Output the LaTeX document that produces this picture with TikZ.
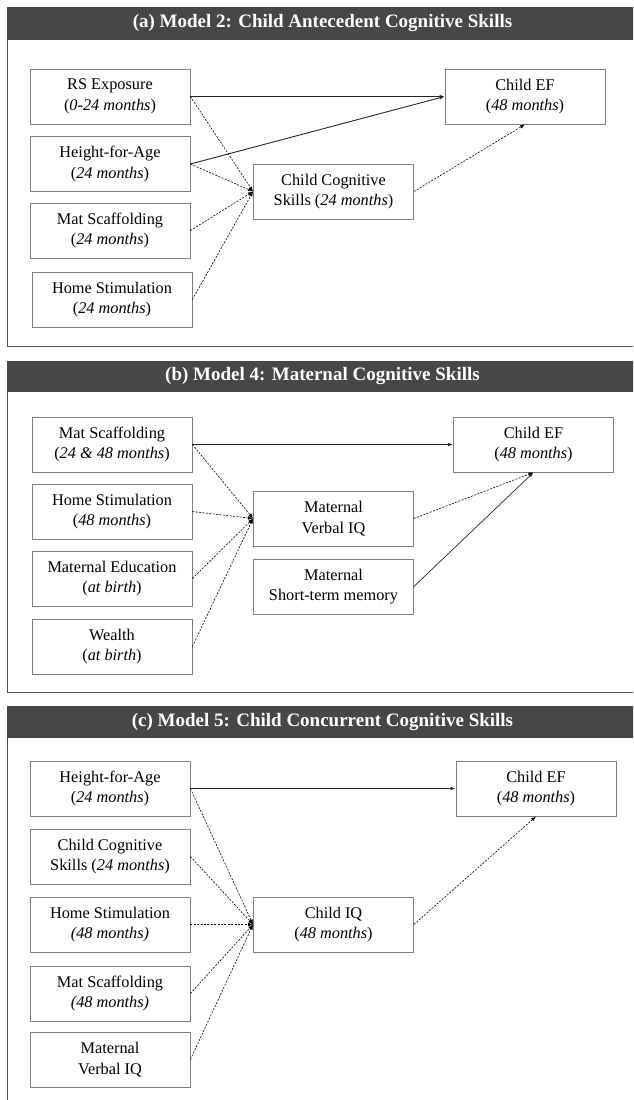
\documentclass[tikz,border=0pt]{standalone}
\usepackage{fontspec}
\setmainfont{Liberation Serif}
\usetikzlibrary{arrows.meta}
\definecolor{headgray}{HTML}{474747}
\definecolor{boxgray}{HTML}{7F7F7F}
\definecolor{framegray}{HTML}{555555}
\tikzset{>={Latex[length=5pt,width=3.6pt]}}
\tikzset{
  varbox/.style = {
    draw=boxgray, line width=0.8pt,
    minimum width=160pt, minimum height=55pt,
    align=center, inner sep=2pt,
    font=\fontsize{16.3}{20.5}\selectfont
  },
  headtext/.style = {text=white, font=\fontsize{19}{22}\selectfont\bfseries},
  panelframe/.style = {draw=framegray, line width=0.9pt},
  direct/.style = {->, line width=0.9pt, draw=black!85},
  indirect/.style = {->, line width=0.6pt, dash pattern=on 2pt off 1.4pt}
}

\begin{document}
\begin{tikzpicture}[x=1pt,y=-1pt]
  \useasboundingbox (0,0) rectangle (633,1100);
  \clip (0,0) rectangle (633,1100);
  % panel frames and title bars
  \draw[panelframe] (7,7) rectangle (638,346);
  \draw[panelframe] (7,361) rectangle (638,692);
  \draw[panelframe] (7,706) rectangle (638,1110);
  \fill[headgray] (7,7) rectangle (638,40);
  \fill[headgray] (7,361) rectangle (638,392);
  \fill[headgray] (7,706) rectangle (638,738);
  \node[headtext] (aTitle) at (322.5,23.5) {(a) Model 2: Child Antecedent Cognitive Skills};
  \node[headtext] (bTitle) at (322.5,376.5) {(b) Model 4: Maternal Cognitive Skills};
  \node[headtext] (cTitle) at (322.5,722) {(c) Model 5: Child Concurrent Cognitive Skills};

  % (a) Model 2
  \node[varbox] (aRS)  at (110,96.5)  {RS Exposure\\(\textit{0-24 months})};
  \node[varbox] (aHfA) at (110,164)   {Height-for-Age\\(\textit{24 months})};
  \node[varbox] (aMS)  at (110,230.5) {Mat Scaffolding\\(\textit{24 months})};
  \node[varbox] (aHS)  at (112,299.5) {Home Stimulation\\(\textit{24 months})};
  \node[varbox] (aCog) at (333.5,191.5) {Child Cognitive\\Skills (\textit{24 months})};
  \node[varbox] (aEF)  at (525,96.5)  {Child EF\\(\textit{48 months})};
  \draw[direct] (aRS.east) -- (aEF.west);
  \draw[direct] (aHfA.east) -- (aEF.west);
  \foreach \src in {aRS,aHfA,aMS,aHS} {
    \draw[indirect] (\src.east) -- (aCog.west);
  }
  \draw[indirect] (aCog.east) -- (aEF.south);

  % (b) Model 4
  \node[varbox] (bMS)  at (112,444.5) {Mat Scaffolding\\(\textit{24 \& 48 months})};
  \node[varbox] (bHS)  at (112,511.5) {Home Stimulation\\(\textit{48 months})};
  \node[varbox] (bME)  at (112,578.5) {Maternal Education\\(\textit{at birth})};
  \node[varbox] (bW)   at (112,646.5) {Wealth\\(\textit{at birth})};
  \node[varbox] (bVIQ) at (333.5,518.5) {Maternal\\Verbal IQ};
  \node[varbox] (bSTM) at (333.5,586.5) {Maternal\\Short-term memory};
  \node[varbox] (bEF)  at (533.5,444.5) {Child EF\\(\textit{48 months})};
  \draw[direct] (bMS.east) -- (bEF.west);
  \foreach \src in {bMS,bHS,bME,bW} {
    \draw[indirect] (\src.east) -- (bVIQ.west);
  }
  \draw[indirect] (bVIQ.east) -- (bEF.south);
  \draw[direct,line width=0.7pt] (bSTM.east) -- (bEF.south);

  % (c) Model 5
  \node[varbox] (cHfA) at (110,788.5)  {Height-for-Age\\(\textit{24 months})};
  \node[varbox] (cCog) at (110,856.5)  {Child Cognitive\\Skills (\textit{24 months})};
  \node[varbox] (cHS)  at (110,924.5)  {Home Stimulation\\\textit{(48 months)}};
  \node[varbox] (cMS)  at (110,993.5)  {Mat Scaffolding\\\textit{(48 months)}};
  \node[varbox] (cVIQ) at (110,1059.5) {Maternal\\Verbal IQ};
  \node[varbox] (cIQ)  at (333.5,924.5) {Child IQ\\(\textit{48 months})};
  \node[varbox] (cEF)  at (536,788.5)  {Child EF\\(\textit{48 months})};
  \draw[direct] (cHfA.east) -- (cEF.west);
  \foreach \src in {cHfA,cCog,cHS,cMS,cVIQ} {
    \draw[indirect] (\src.east) -- (cIQ.west);
  }
  \draw[indirect] (cIQ.east) -- (cEF.south);
\end{tikzpicture}
\end{document}
